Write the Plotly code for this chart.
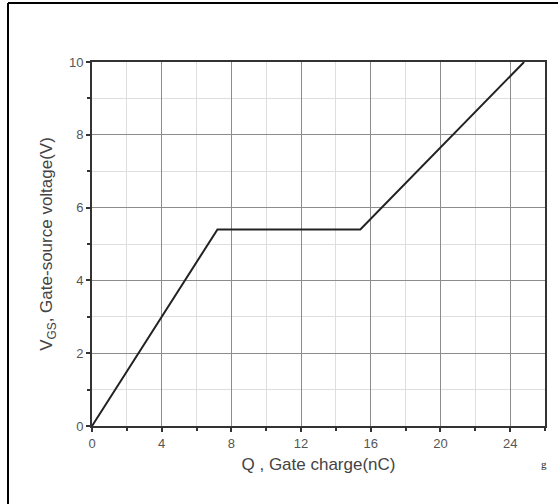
import plotly.graph_objects as go

# Data
gate_charge_nc = [0, 7.2, 15.4, 24.8]
vgs_volts = [0, 5.4, 5.4, 10]

x_tickvals = [0, 4, 8, 12, 16, 20, 24]
y_tickvals = [0, 2, 4, 6, 8, 10]

W, H = 558, 504
L, R, T, B = 92, 13, 62, 78
pw, ph = W - L - R, H - T - B

fig = go.Figure()
fig.add_trace(go.Scatter(x=gate_charge_nc, y=vgs_volts, mode="lines",
                         line=dict(color="#222222", width=2), showlegend=False,
                         hoverinfo="skip"))

axis_common = dict(
    showline=True, linecolor="#333333", linewidth=2, mirror=True,
    ticks="outside", ticklen=4, tickwidth=1.5, tickcolor="#333333",
    showgrid=True, gridcolor="#8c8c8c", gridwidth=1,
    zeroline=False,
    tickfont=dict(family="Liberation Sans, Arial, sans-serif", size=13, color="#555555"),
)

fig.update_xaxes(
    range=[0, 26], tickvals=x_tickvals, **axis_common,
    minor=dict(dtick=2, tick0=0, ticks="outside", ticklen=3, tickcolor="#333333",
               showgrid=True, gridcolor="#dedede", gridwidth=1),
    title=dict(text="Q , Gate charge(nC)", standoff=9,
               font=dict(family="Liberation Sans, Arial, sans-serif", size=17, color="#444444")),
)
fig.update_yaxes(
    range=[0, 10], tickvals=y_tickvals, **axis_common,
    minor=dict(dtick=1, tick0=0, ticks="outside", ticklen=3, tickcolor="#333333",
               showgrid=True, gridcolor="#dedede", gridwidth=1),
    title=dict(text="V<sub>GS</sub>, Gate-source voltage(V)", standoff=12,
               font=dict(family="Liberation Sans, Arial, sans-serif", size=17, color="#444444")),
)

# outer frame lines (top and left), positioned in paper coords
left_px, top_px = 8, 3
fig.add_shape(type="line", xref="paper", yref="paper",
              x0=(left_px - L) / pw, x1=(left_px - L) / pw,
              y0=-(H - T - ph) / ph, y1=1 + (T - top_px) / ph,
              line=dict(color="#000000", width=2))
fig.add_shape(type="line", xref="paper", yref="paper",
              x0=(left_px - L) / pw, x1=(W - L) / pw,
              y0=1 + (T - top_px) / ph, y1=1 + (T - top_px) / ph,
              line=dict(color="#000000", width=2))

fig.add_annotation(text="g", xref="paper", yref="paper",
                   x=(549 - L) / pw, y=-(472 - T - ph) / ph,
                   showarrow=False, font=dict(family="Liberation Serif, Times New Roman, serif",
                                              size=11, color="#222222"))

fig.update_layout(
    width=W, height=H,
    margin=dict(l=L, r=R, t=T, b=B),
    paper_bgcolor="white", plot_bgcolor="white",
)

fig.write_html("out.html", config={"displayModeBar": False},
               post_script="document.body.style.margin='0px';document.body.style.overflow='hidden';")
